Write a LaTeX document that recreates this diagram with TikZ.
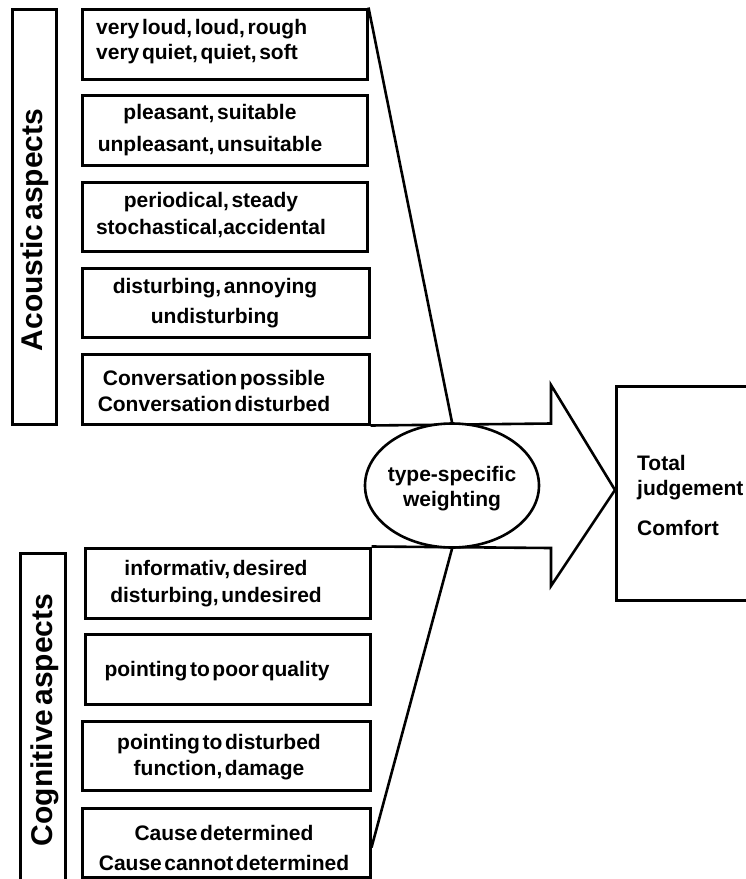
\documentclass[tikz,border=0pt]{standalone}
\usepackage{fontspec}
\setmainfont{Liberation Sans}[WordSpace=0.45]
\usetikzlibrary{shapes.geometric,calc}
\begin{document}
\begin{tikzpicture}[x=1pt,y=-1pt,
  box/.style={draw=black,line width=3pt,fill=white,inner sep=0pt},
  txt/.style={font=\bfseries\fontsize{21}{25}\selectfont,align=center,inner sep=0pt},
  side/.style={font=\bfseries\fontsize{30}{30}\selectfont,rotate=90,inner sep=0pt},
  conn/.style={line width=2.6pt,line join=miter}
]
\useasboundingbox (0,0) rectangle (746,879);
% side label boxes
\node[box,minimum width=44pt,minimum height=415pt] (acbox) at (34,216.5) {};
\node[box,minimum width=45pt,minimum height=360pt] (cgbox) at (42.5,733) {};
\node[side] (aclab) at (35,230) {Acoustic aspects};
\node[side] (cglab) at (45,720) {Cognitive aspects};
% arrow
\coordinate (s1) at (551,423.5);
\coordinate (h1) at (551,385);
\coordinate (tip) at (615,490);
\coordinate (h2) at (551,586);
\coordinate (s2) at (551,548);
% acoustic boxes
\node[box,minimum width=285pt,minimum height=70pt] (a1) at (224.5,44) {};
\node[box,minimum width=285pt,minimum height=70pt] (a2) at (224.5,130) {};
\node[box,minimum width=285pt,minimum height=69pt] (a3) at (224.5,216.5) {};
\node[box,minimum width=287pt,minimum height=69pt] (a4) at (225.5,302.5) {};
\node[box,minimum width=287pt,minimum height=70pt] (a5) at (225.5,389) {};
% cognitive boxes
\node[box,minimum width=285pt,minimum height=70pt] (c1) at (227.5,583) {};
\node[box,minimum width=285pt,minimum height=70pt] (c2) at (227.5,669) {};
\node[box,minimum width=288pt,minimum height=69pt] (c3) at (226,755.5) {};
\node[box,minimum width=288pt,minimum height=69pt] (c4) at (226,842.5) {};
% arrow outline
\draw[conn] (a5.south east) -- (s1) -- (h1) -- (tip) -- (h2) -- (s2) -- (c1.north east);
% judgement box
\node[box,minimum width=200pt,minimum height=214pt,anchor=north west] (judge) at (615,385) {};
% ellipse
\node[ellipse,draw=black,line width=2.6pt,fill=white,minimum width=174pt,minimum height=124pt,inner sep=0pt] (weight) at (452,485.5) {};
\node[txt] (wtxt) at (452,489) {type-specific\\weighting};
% connectors
\draw[conn] (a1.north east) -- (weight.north);
\draw[conn] (weight.south) -- ([yshift=-5pt]c4.east);
% texts
\node[txt,align=left,anchor=west] (t1) at (96,42) {very loud, loud, rough\\very quiet, quiet, soft};
\node[txt] (t2) at (210,130) {pleasant, suitable\\[7pt]unpleasant, unsuitable};
\node[txt] (t3) at (211,215) {periodical, steady\\[2pt]stochastical,accidental};
\node[txt] (t4) at (215,303) {disturbing, annoying\\[5pt]undisturbing};
\node[txt] (t5) at (214,391) {Conversation possible\\[1pt]Conversation disturbed};
\node[txt] (u1) at (216,584) {informativ, desired\\[2pt]disturbing, undesired};
\node[txt] (u2) at (217,671) {pointing to poor quality};
\node[txt] (u3) at (219,757) {pointing to disturbed\\[1pt]function, damage};
\node[txt] (u4) at (224,848) {Cause determined\\[5pt]Cause cannot determined};
\node[txt,align=left,anchor=west] (jt) at (637,495) {Total\\judgement\\[15pt]Comfort};
\end{tikzpicture}
\end{document}
